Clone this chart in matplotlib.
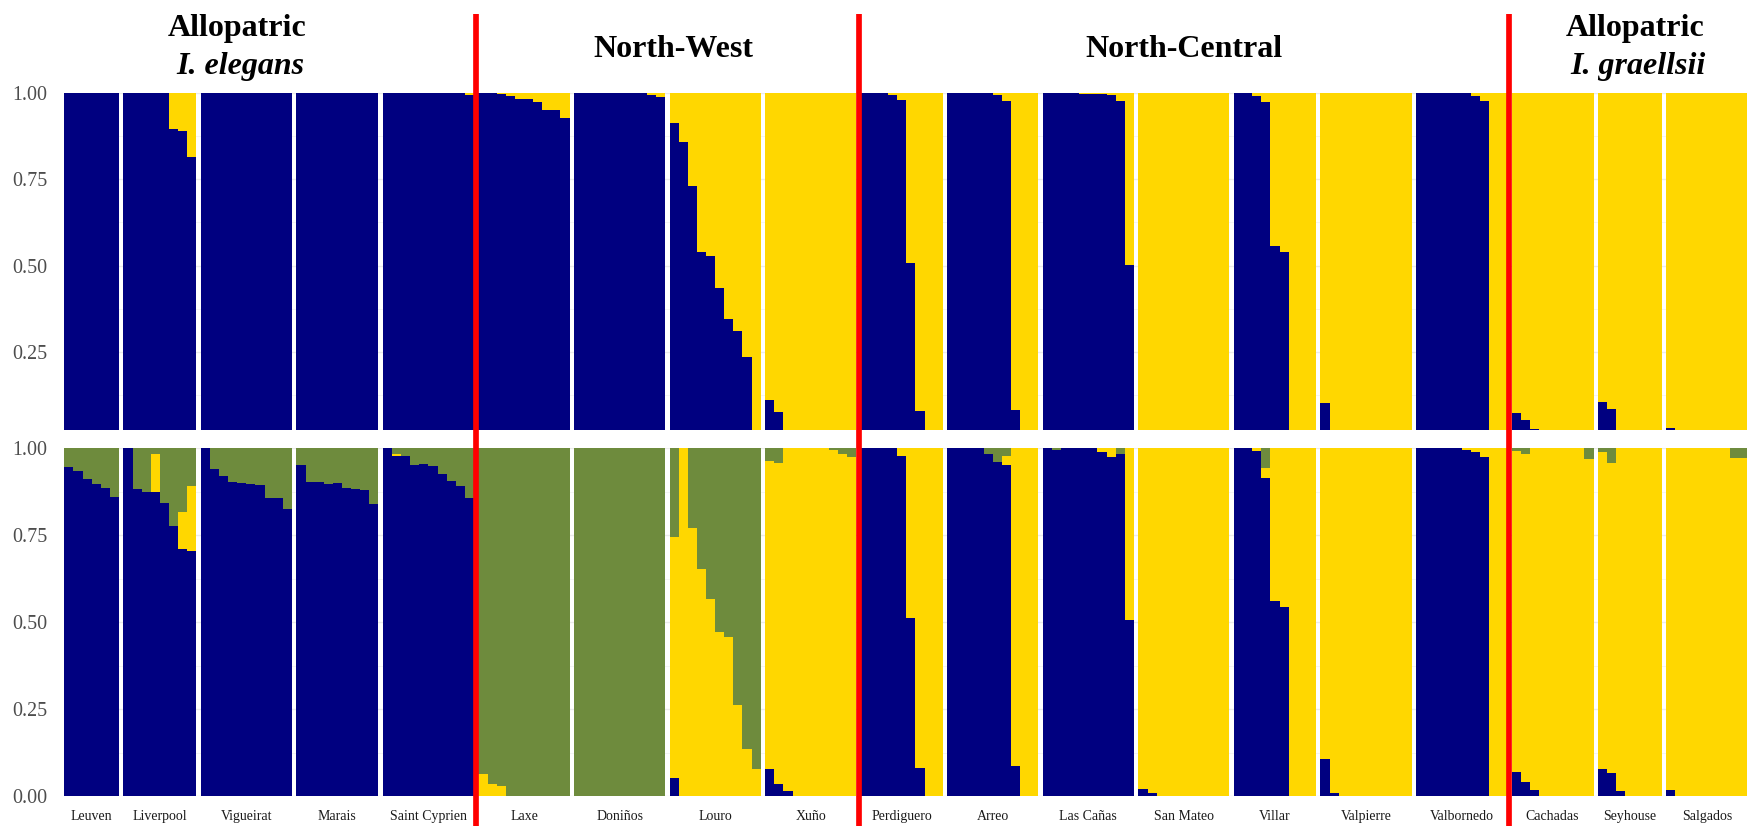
import matplotlib
matplotlib.use('Agg')
import matplotlib.pyplot as plt
import matplotlib.transforms as mtransforms
from matplotlib.lines import Line2D
import numpy as np

plt.rcParams['font.family'] = ['Liberation Serif', 'DejaVu Serif']

# populations, in plotting order
pops = ['Leuven', 'Liverpool', 'Vigueirat', 'Marais', 'Saint Cyprien',
        'Laxe', 'Doniños', 'Louro', 'Xuño',
        'Perdiguero', 'Arreo', 'Las Cañas', 'San Mateo', 'Villar', 'Valpierre', 'Valbornedo',
        'Cachadas', 'Seyhouse', 'Salgados']

# K = 2 : ancestry in cluster 1 (navy), the rest is cluster 2 (gold)
top_navy = [
    [1, 1, 1, 1, 1, 1],
    [1, 1, 1, 1, 1, 0.894, 0.888, 0.813],
    [1, 1, 1, 1, 1, 1, 1, 1, 1, 1],
    [1, 1, 1, 1, 1, 1, 1, 1, 1],
    [1, 1, 1, 1, 1, 1, 1, 1, 1, 0.993],
    [1, 1, 0.996, 0.990, 0.982, 0.982, 0.972, 0.951, 0.949, 0.926],
    [1, 1, 1, 1, 1, 1, 1, 1, 0.994, 0.988],
    [0.912, 0.858, 0.730, 0.540, 0.527, 0.436, 0.347, 0.312, 0.235, 0.010],
    [0.113, 0.077, 0.010, 0, 0, 0, 0, 0, 0, 0],
    [1, 1, 1, 0.994, 0.979, 0.509, 0.079, 0, 0],
    [1, 1, 1, 1, 1, 0.994, 0.977, 0.083, 0, 0],
    [1, 1, 1, 1, 0.995, 0.995, 0.995, 0.992, 0.977, 0.503],
    [0, 0, 0, 0, 0, 0, 0, 0, 0, 0],
    [1, 1, 0.990, 0.974, 0.556, 0.539, 0, 0, 0],
    [0.104, 0, 0, 0, 0, 0, 0, 0, 0, 0],
    [1, 1, 1, 1, 1, 0.998, 0.990, 0.977, 0, 0],
    [0.075, 0.054, 0.029, 0, 0, 0, 0, 0, 0],
    [0.107, 0.087, 0, 0, 0, 0, 0],
    [0.030, 0, 0, 0, 0, 0, 0, 0, 0],
]

# K = 3 : navy and gold clusters, the rest is the green cluster
k3_navy = [
    [0.946, 0.935, 0.911, 0.897, 0.886, 0.860],
    [1.0, 0.884, 0.874, 0.874, 0.842, 0.776, 0.710, 0.706],
    [1.0, 0.940, 0.919, 0.902, 0.900, 0.898, 0.895, 0.856, 0.856, 0.826],
    [0.952, 0.902, 0.904, 0.896, 0.900, 0.887, 0.884, 0.880, 0.839],
    [1.0, 0.977, 0.979, 0.953, 0.955, 0.950, 0.926, 0.905, 0.892, 0.858],
    [0, 0, 0, 0, 0, 0, 0, 0, 0, 0],
    [0, 0, 0, 0, 0, 0, 0, 0, 0, 0],
    [0.052, 0, 0, 0, 0, 0, 0, 0, 0, 0],
    [0.078, 0.035, 0.014, 0, 0, 0, 0, 0, 0, 0],
    [1, 1, 1, 1, 0.978, 0.513, 0.080, 0, 0],
    [1, 1, 1, 1, 0.985, 0.962, 0.952, 0.086, 0, 0],
    [1, 0.995, 1, 1, 1, 1, 0.990, 0.976, 0.985, 0.505],
    [0.019, 0.008, 0, 0, 0, 0, 0, 0, 0, 0],
    [1, 1, 0.992, 0.916, 0.560, 0.545, 0, 0, 0],
    [0.106, 0.010, 0, 0, 0, 0, 0, 0, 0, 0],
    [1, 1, 1, 1, 1, 0.995, 0.990, 0.974, 0, 0],
    [0.069, 0.039, 0.017, 0, 0, 0, 0, 0, 0],
    [0.078, 0.067, 0.014, 0, 0, 0, 0],
    [0.017, 0, 0, 0, 0, 0, 0, 0, 0],
]
k3_gold = [
    [0, 0, 0, 0, 0, 0],
    [0, 0, 0, 0.111, 0, 0, 0.106, 0.185],
    [0, 0, 0, 0, 0, 0, 0, 0, 0, 0],
    [0, 0, 0, 0, 0, 0, 0, 0, 0],
    [0, 0.006, 0, 0, 0, 0, 0, 0, 0, 0],
    [0.062, 0.035, 0.030, 0, 0, 0, 0, 0, 0, 0],
    [0, 0, 0, 0, 0, 0, 0, 0, 0, 0],
    [0.693, 1.0, 0.770, 0.654, 0.566, 0.473, 0.457, 0.262, 0.136, 0.078],
    [0.886, 0.922, 0.986, 1, 1, 1, 1, 0.995, 0.984, 0.976],
    [0, 0, 0, 0, 0.022, 0.487, 0.920, 1, 1],
    [0, 0, 0, 0, 0, 0, 0.027, 0.914, 1, 1],
    [0, 0, 0, 0, 0, 0, 0.010, 0.024, 0, 0.495],
    [0.981, 0.992, 1, 1, 1, 1, 1, 1, 1, 1],
    [0, 0, 0.008, 0.028, 0.440, 0.455, 1, 1, 1],
    [0.894, 0.990, 1, 1, 1, 1, 1, 1, 1, 1],
    [0, 0, 0, 0, 0, 0.005, 0.010, 0.026, 1, 1],
    [0.924, 0.945, 0.983, 1, 1, 1, 1, 1, 0.970],
    [0.910, 0.892, 0.986, 1, 1, 1, 1],
    [0.983, 1, 1, 1, 1, 1, 1, 0.972, 0.972],
]

# group headers and the populations after which a red separator is drawn
headers = [('Allopatric', 'I. elegans', 237), ('North-West', None, 673),
           ('North-Central', None, 1184), ('Allopatric', 'I. graellsii', 1635)]
split_after = ['Saint Cyprien', 'Xuño', 'Valbornedo']

NAVY = '#000080'
GOLD = '#FFD700'
GREEN = '#6E8B3D'
RED = '#FF0000'

W, H = 1747, 826
fig = plt.figure(figsize=(W / 100, H / 100), dpi=100)
left = 64.3 / W
width = 1684 / W
ax_top = fig.add_axes([left, 1 - 430 / H, width, 337.3 / H])
ax_bot = fig.add_axes([left, 1 - 796 / H, width, 347.7 / H])

gap = 0.5
starts = []
pos = 0
for v in top_navy:
    starts.append(pos)
    pos += len(v) + gap
total = pos - gap


def draw(ax, layers):
    for p in range(len(pops)):
        xs = starts[p] + np.arange(len(layers[0][1][p])) + 0.5
        bottom = np.zeros(len(xs))
        for col, vals in layers:
            h = np.clip(np.array(vals[p], dtype=float), 0, None)
            ax.bar(xs, h, width=1.0, bottom=bottom, color=col, linewidth=0,
                   antialiased=False, zorder=2)
            bottom += h


top_gold = [list(1 - np.array(v, dtype=float)) for v in top_navy]
k3_green = [list(1 - np.array(a, dtype=float) - np.array(b, dtype=float))
            for a, b in zip(k3_navy, k3_gold)]

draw(ax_top, [(NAVY, top_navy), (GOLD, top_gold)])
draw(ax_bot, [(NAVY, k3_navy), (GOLD, k3_gold), (GREEN, k3_green)])

for ax in (ax_top, ax_bot):
    ax.set_xlim(0, total)
    for s in ax.spines.values():
        s.set_visible(False)
    ax.set_yticks(np.arange(0.125, 1.0, 0.25), minor=True)
    ax.grid(True, which='major', axis='y', color='#EBEBEB', lw=1.0, zorder=0)
    ax.grid(True, which='minor', axis='y', color='#F2F2F2', lw=0.6, zorder=0)
    ax.tick_params(which='both', length=0)
    ax.tick_params(axis='y', pad=12, labelsize=14.4, labelcolor='#4D4D4D')
    ax.set_axisbelow(True)

ax_top.set_ylim(0.025, 1.0)
ax_top.set_yticks([0.25, 0.5, 0.75, 1.0])
ax_top.set_yticklabels(['0.25', '0.50', '0.75', '1.00'])
ax_top.set_xticks([])

ax_bot.set_ylim(0, 1.0)
ax_bot.set_yticks([0, 0.25, 0.5, 0.75, 1.0])
ax_bot.set_yticklabels(['0.00', '0.25', '0.50', '0.75', '1.00'])
centers = [starts[p] + len(top_navy[p]) / 2 for p in range(len(pops))]
ax_bot.set_xticks(centers)
ax_bot.set_xticklabels(pops, fontsize=10, color='#1A1A1A')
ax_bot.tick_params(axis='x', pad=10)

# group headers
for name, species, xc in headers:
    if species is None:
        fig.text(xc / W, 1 - 56.7 / H, name, ha='center', va='baseline',
                 fontsize=23, fontweight='bold')
    else:
        fig.text(xc / W, 1 - 36 / H, name, ha='center', va='baseline',
                 fontsize=23, fontweight='bold')
        fig.text((xc + 3) / W, 1 - 74 / H, species, ha='center', va='baseline',
                 fontsize=23, fontweight='bold', style='italic')

# red separators between groups
trans = mtransforms.blended_transform_factory(ax_bot.transData, fig.transFigure)
for name in split_after:
    p = pops.index(name)
    xg = starts[p + 1] - gap / 2
    fig.add_artist(Line2D([xg, xg], [0, 1 - 14 / H], transform=trans,
                          color=RED, lw=4.1, solid_capstyle='butt'))

fig.savefig('out.png', dpi=100)
